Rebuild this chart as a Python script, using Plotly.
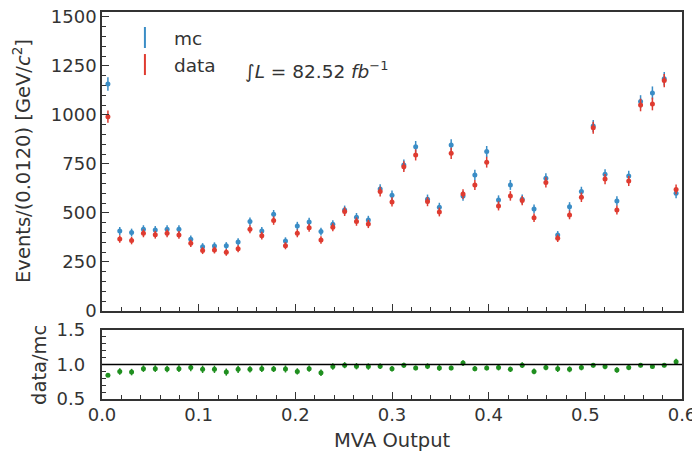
import numpy as np
import plotly.graph_objects as go

# ---------------- data ----------------
x_min, x_max, n_bins = 0.0, 0.6, 49

mc_counts = [1158, 408, 400, 417, 413, 417, 417, 366, 328, 332, 333, 352, 456, 408, 493,
             357, 434, 454, 405, 442, 515, 478, 464, 622, 590, 745, 838, 570, 529, 847,
             587, 694, 813, 566, 643, 570, 520, 677, 388, 532, 609, 944, 697, 561, 689,
             1068, 1112, 1184, 600]

data_counts = [991, 367, 359, 396, 389, 396, 388, 345, 308, 311, 299, 318, 417, 384, 461,
               333, 396, 425, 362, 427, 507, 456, 444, 609, 556, 736, 796, 558, 505, 804,
               597, 643, 759, 536, 587, 563, 476, 656, 371, 490, 580, 935, 673, 515, 663,
               1051, 1056, 1175, 620]

ratio_vals = [0.845, 0.90, 0.89, 0.94, 0.94, 0.935, 0.94, 0.955, 0.93, 0.93, 0.89, 0.93,
              0.93, 0.94, 0.935, 0.935, 0.90, 0.94, 0.88, 0.97, 0.99, 0.975, 0.97, 0.975,
              0.94, 0.99, 0.95, 0.975, 0.95, 0.95, 1.02, 0.94, 0.95, 0.955, 0.93, 0.99,
              0.90, 0.955, 0.94, 0.93, 0.955, 0.99, 0.97, 0.92, 0.955, 0.99, 0.97, 0.99, 1.04]

x_tick_vals = [0.0, 0.1, 0.2, 0.3, 0.4, 0.5, 0.6]
x_tick_text = ["0.0", "0.1", "0.2", "0.3", "0.4", "0.5", "0.6"]
main_y_ticks = [0, 250, 500, 750, 1000, 1250, 1500]
ratio_y_ticks = [0.5, 1.0, 1.5]
ratio_y_text = ["0.5", "1.0", "1.5"]

# ---------------- derived ----------------
edges = np.linspace(x_min, x_max, n_bins + 1)
centers = 0.5 * (edges[:-1] + edges[1:])
mc_arr = np.array(mc_counts, dtype=float)
data_arr = np.array(data_counts, dtype=float)
mc_err = np.sqrt(mc_arr)
data_err = np.sqrt(data_arr)
ratio_err = np.array(ratio_vals) / np.sqrt(data_arr)

BLUE = "#3a8dc6"
RED = "#df3b30"
GREEN = "#1f8f1f"
TXT = "#333333"
FONT = "DejaVu Sans"
PAD = "\u00a0\u00a0"  # gap between y tick labels and the axis

fig = go.Figure()

fig.add_trace(go.Scatter(
    x=centers, y=mc_arr, mode="markers", name="mc", showlegend=False,
    marker=dict(color=BLUE, size=5),
    error_y=dict(type="data", array=mc_err, color=BLUE, thickness=1.5, width=0),
    xaxis="x", yaxis="y"))
fig.add_trace(go.Scatter(
    x=centers, y=data_arr, mode="markers", name="data", showlegend=False,
    marker=dict(color=RED, size=5),
    error_y=dict(type="data", array=data_err, color=RED, thickness=1.5, width=0),
    xaxis="x", yaxis="y"))

# legend-only glyphs (vertical errorbar look)
fig.add_trace(go.Scatter(
    x=[None], y=[None], mode="markers", name="mc", legendgroup="a",
    marker=dict(symbol="line-ns", size=15, line=dict(color=BLUE, width=2)),
    xaxis="x", yaxis="y"))
fig.add_trace(go.Scatter(
    x=[None], y=[None], mode="markers", name="data", legendgroup="b",
    marker=dict(symbol="line-ns", size=15, line=dict(color=RED, width=2)),
    xaxis="x", yaxis="y"))

fig.add_trace(go.Scatter(
    x=centers, y=ratio_vals, mode="markers", name="ratio", showlegend=False,
    marker=dict(color=GREEN, size=5),
    error_y=dict(type="data", array=ratio_err, color=GREEN, thickness=1.5, width=0),
    xaxis="x2", yaxis="y2"))

axis_common = dict(
    showline=True, linecolor=TXT, linewidth=1.5, mirror=True,
    ticks="inside", tickcolor=TXT, tickwidth=1, ticklen=7,
    showgrid=False, zeroline=False, automargin=False,
    ticklabeloverflow="allow",
    tickfont=dict(family=FONT, size=18, color=TXT),
)

title_font = dict(family=FONT, size=19.5, color=TXT)

# the page adds an 8px body margin, so the figure is sized 8px smaller
fig.update_layout(
    width=692, height=447,
    margin=dict(l=94, r=18, t=4, b=56),
    paper_bgcolor="white", plot_bgcolor="white",
    font=dict(family=FONT, color=TXT),
    xaxis=dict(axis_common, domain=[0, 1], range=[x_min, x_max], anchor="y",
               matches="x2", tickvals=x_tick_vals, showticklabels=False,
               minor=dict(ticks="inside", ticklen=4, dtick=0.02, tickcolor=TXT)),
    yaxis=dict(axis_common, domain=[0.2274, 1.0], range=[0, 1525], anchor="x",
               tickvals=main_y_ticks, ticksuffix=PAD,
               minor=dict(ticks="inside", ticklen=4, dtick=50, tickcolor=TXT)),
    xaxis2=dict(axis_common, domain=[0, 1], range=[x_min, x_max], anchor="y2",
                tickvals=x_tick_vals, ticktext=x_tick_text, ticklabelstandoff=-1,
                minor=dict(ticks="inside", ticklen=4, dtick=0.02, tickcolor=TXT)),
    yaxis2=dict(axis_common, domain=[0, 0.1783], range=[0.5, 1.5], anchor="x2",
                tickvals=ratio_y_ticks, ticktext=[t + PAD for t in ratio_y_text],
                minor=dict(ticks="inside", ticklen=4, dtick=0.1, tickcolor=TXT)),
    legend=dict(x=0.024, y=0.982, xanchor="left", yanchor="top", itemwidth=48,
                bgcolor="rgba(0,0,0,0)", traceorder="grouped", tracegroupgap=0,
                font=dict(family=FONT, size=18.5, color=TXT)),
    shapes=[dict(type="line", xref="x2 domain", yref="y2", x0=0, x1=1, y0=1.0, y1=1.0,
                 line=dict(color="black", width=1.5))],
    annotations=[
        dict(text="∫<i>L</i> = 82.52 <i>fb</i><sup>−1</sup>", xref="paper", yref="paper",
             x=0.243, y=0.85, xanchor="left", yanchor="middle", showarrow=False,
             font=dict(family=FONT, size=18.5, color=TXT)),
        dict(text="Events/(0.0120) [GeV/<i>c</i><sup>2</sup>]", xref="paper", yref="paper",
             x=-0.138, y=0.615, xanchor="center", yanchor="middle", textangle=-90,
             showarrow=False, font=title_font),
        dict(text="data/mc", xref="paper", yref="paper",
             x=-0.107, y=0.088, xanchor="center", yanchor="middle", textangle=-90,
             showarrow=False, font=title_font),
        dict(text="MVA Output", xref="paper", yref="paper",
             x=0.5, y=-0.106, xanchor="center", yanchor="middle",
             showarrow=False, font=title_font),
    ],
)

fig.write_html("out.html")
